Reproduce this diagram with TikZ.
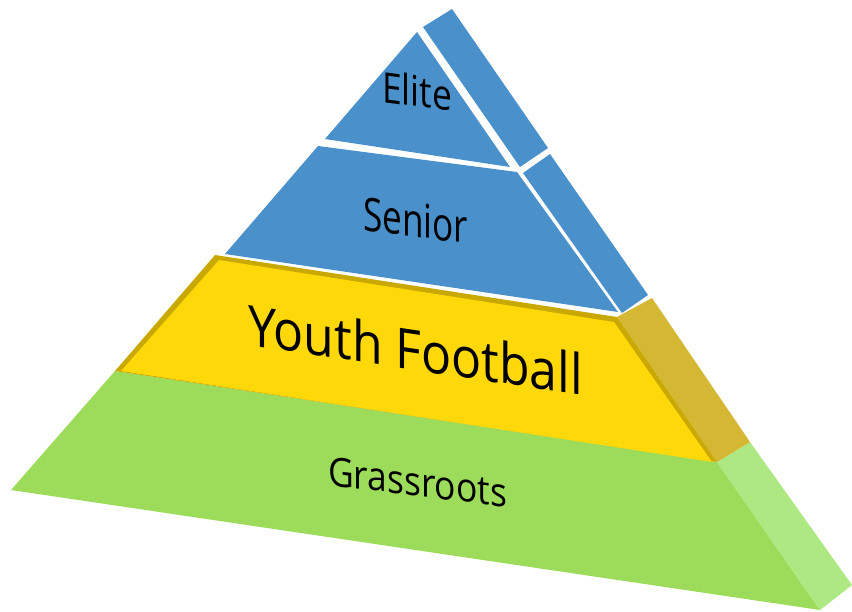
\documentclass[tikz,border=0pt]{standalone}
\usepackage{fontspec}
\setsansfont{Open Sans}
\usepackage{graphicx}
\definecolor{pblue}{HTML}{4A91CC}
\definecolor{pyellow}{HTML}{FFD80A}
\definecolor{pyellowdark}{HTML}{C9A800}
\definecolor{pyellowside}{HTML}{D4B834}
\definecolor{pgreen}{HTML}{9CDC5A}
\definecolor{pgreenside}{HTML}{AEE882}
\tikzset{
  face/.style={draw=none},
  lbl/.style={anchor=base west, inner sep=0pt, outer sep=0pt, transform shape, font=\sffamily, text=black}
}
\begin{document}
\begin{tikzpicture}[x=1pt,y=-1pt]
\useasboundingbox[fill=white] (0,0) rectangle (852,611);
% Grassroots
\fill[pgreen] (11,490) -- (115,371) -- (717,462) -- (820,610) -- cycle;
\fill[pgreenside] (717,462) -- (750,442) -- (852,585) -- (820,610) -- cycle;
% Youth Football
\fill[pyellowside] (617,317) -- (652,298) -- (750,442) -- (717,462) -- cycle;
\fill[pyellowdark] (115,371) -- (215,255) -- (617,317) -- (717,462) -- cycle;
\fill[pyellow] (121,371) -- (219,260) -- (614,322) -- (712,462) -- cycle;
% Senior
\fill[pblue] (225,254) -- (318,146) -- (517,172) -- (618,312) -- cycle;
\fill[pblue] (523,173) -- (550,154) -- (648,295) -- (622,313) -- cycle;
% Elite
\fill[pblue] (417,32) -- (325,139) -- (510,167) -- cycle;
\fill[pblue] (423,27) -- (452,9) -- (548,148) -- (520,167) -- cycle;
% labels
\begin{scope}[shift={(382,102)}, yslant=-0.13]
\node[lbl] (elite) at (0,0) {\resizebox{70pt}{32pt}{Elite}};
\end{scope}
\begin{scope}[shift={(363,230)}, yslant=-0.13]
\node[lbl] (senior) at (0,0) {\resizebox{105pt}{34pt}{Senior}};
\end{scope}
\begin{scope}[shift={(248,345)}, yslant=-0.15]
\node[lbl] (youth) at (0,0) {\resizebox{335pt}{42.5pt}{Youth Football}};
\end{scope}
\begin{scope}[shift={(328,485)}, yslant=-0.124]
\node[lbl] (grass) at (0,0) {\resizebox{179pt}{29pt}{Grassroots}};
\end{scope}
\end{tikzpicture}
\end{document}
